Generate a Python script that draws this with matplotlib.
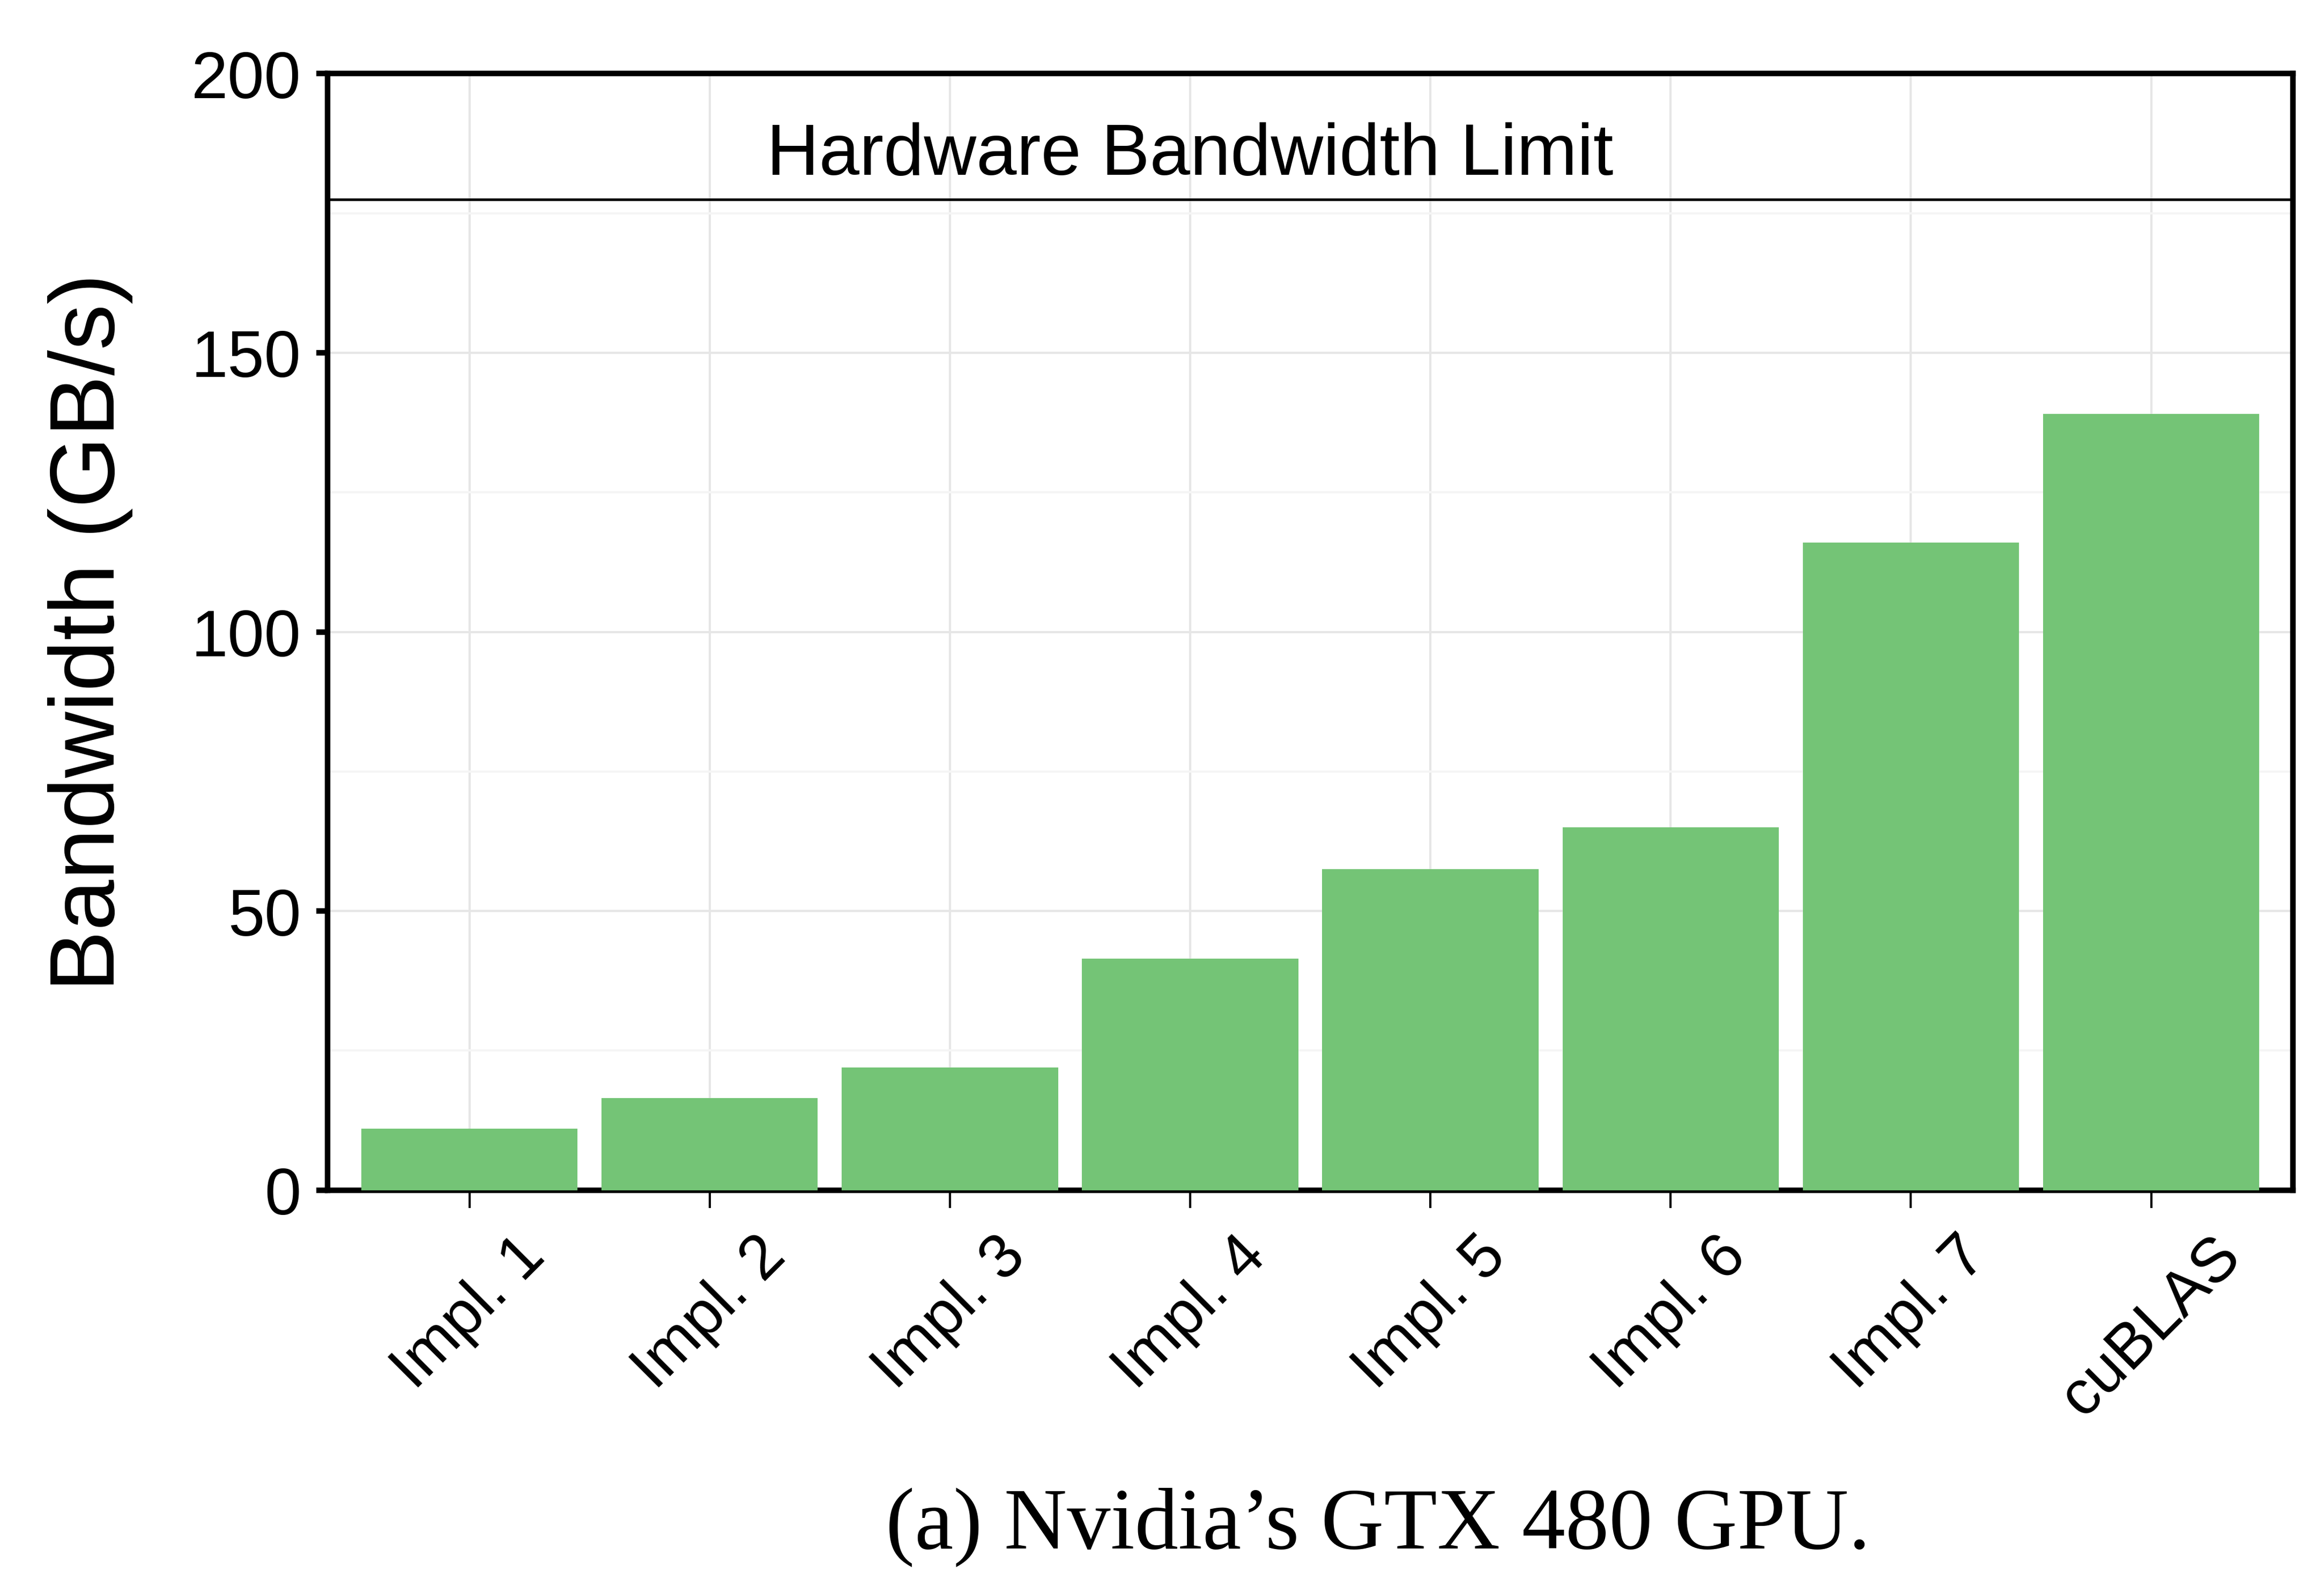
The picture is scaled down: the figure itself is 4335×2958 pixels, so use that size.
# Bandwidth of the different implementations on the GTX 480

import numpy as np
import matplotlib
matplotlib.use("Agg")
import matplotlib.pyplot as plt
from matplotlib.ticker import MultipleLocator

labels = ["Impl. 1", "Impl. 2", "Impl. 3", "Impl. 4", "Impl. 5", "Impl. 6", "Impl. 7", "cuBLAS"]
bandwidth = [11, 16.5, 22, 41.5, 57.5, 65, 116, 139]
hw_limit = 177.5

plt.rcParams['font.family'] = ['Liberation Sans', 'DejaVu Sans']

fig = plt.figure(figsize=(14.45, 9.863), dpi=300)
ax = fig.add_axes([0.141, 0.2495, 0.8456, 0.7038])

x = np.arange(len(labels))
ax.bar(x, bandwidth, width=0.9, color="#74c476", zorder=3)
ax.axhline(hw_limit, color="black", lw=1.2, zorder=4)
ax.text(3, 182, "Hardware Bandwidth Limit", ha="center", va="baseline", fontsize=32.5)

ax.set_xlim(-0.59, 7.59)
ax.set_ylim(0, 200)
ax.yaxis.set_major_locator(MultipleLocator(50))
ax.yaxis.set_minor_locator(MultipleLocator(25))
ax.set_xticks(x)
ax.set_xticklabels(labels, rotation=45, ha="center", fontsize=28)
ax.tick_params(axis="y", which="major", labelsize=29.5, length=5, width=2.5, pad=7)
ax.tick_params(axis="y", which="minor", length=0)
ax.tick_params(axis="x", length=8, width=1, pad=8)

ax.grid(which="major", color="#e6e6e6", lw=1, zorder=0)
ax.grid(which="minor", axis="y", color="#f5f5f5", lw=1, zorder=0)
ax.set_axisbelow(True)
for s in ax.spines.values():
    s.set_linewidth(2.5)

ax.set_ylabel("Bandwidth (GB/s)", fontsize=41, labelpad=26)

fig.text(0.593, 0.037, "(a) Nvidia\u2019s GTX 480 GPU.", ha="center", va="center",
         fontsize=39, family=["Liberation Serif", "DejaVu Serif"])

fig.savefig("out.png", dpi=300)
